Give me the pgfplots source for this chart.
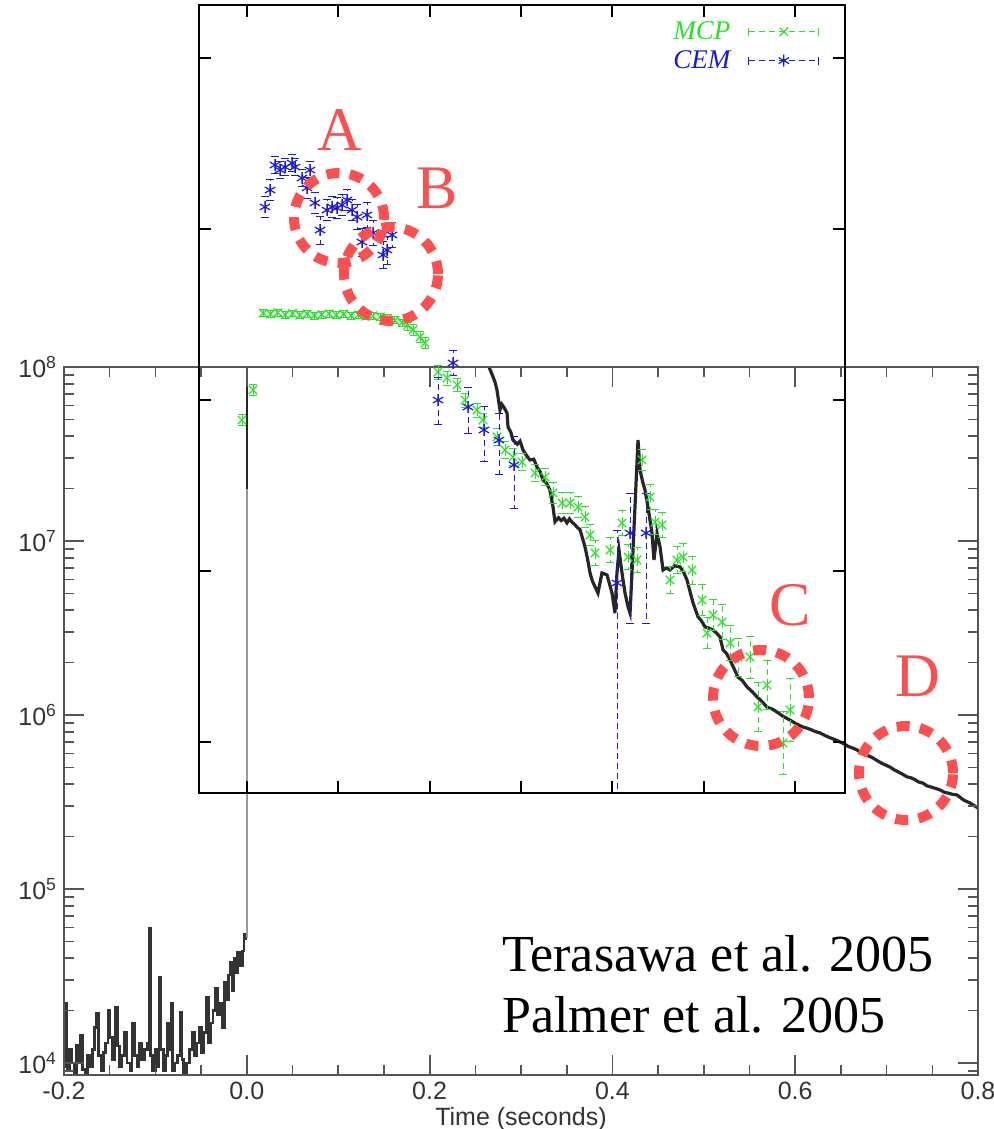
\documentclass[border=0pt]{standalone}
\usepackage{fontspec}
\setmainfont{Liberation Serif}
\newfontfamily\arial{Liberation Sans}
\usepackage{pgfplots}
\usepackage{pgfplotstable}
\pgfplotsset{compat=1.18}
\definecolor{mcp}{RGB}{40,225,40}
\definecolor{cem}{RGB}{25,25,215}
\definecolor{anno}{RGB}{250,80,80}
\definecolor{axgray}{RGB}{85,85,85}

% light curve before the burst (counts/s)
\pgfplotstableread{
t y
-0.2000 9.5e3
-0.1985 2.2e4
-0.1965 9.0e3
-0.1940 1.2e4
-0.1915 1.0e4
-0.1890 8.8e3
-0.1865 1.26e4
-0.1840 1.0e4
-0.1820 1.45e4
-0.1795 9.2e3
-0.1770 8.8e3
-0.1745 1.1e4
-0.1720 9.5e3
-0.1690 1.2e4
-0.1665 1.6e4
-0.1645 1.94e4
-0.1620 1.1e4
-0.1595 9.0e3
-0.1570 1.15e4
-0.1545 1.3e4
-0.1520 2.0e4
-0.1495 1.4e4
-0.1470 1.05e4
-0.1440 2.1e4
-0.1415 1.25e4
-0.1390 9.5e3
-0.1365 1.1e4
-0.1335 1.5e4
-0.1310 1.0e4
-0.1280 9.0e3
-0.1255 1.7e4
-0.1230 1.1e4
-0.1200 9.5e3
-0.1180 1.3e4
-0.1150 1.05e4
-0.1120 1.2e4
-0.1085 1.3e4
-0.1070 5.97e4
-0.1055 1.1e4
-0.1030 9.0e3
-0.1000 1.2e4
-0.0975 9.5e3
-0.0960 3.1e4
-0.0940 1.2e4
-0.0910 9.0e3
-0.0885 1.1e4
-0.0865 1.7e4
-0.0845 1.2e4
-0.0830 2.2e4
-0.0810 9.0e3
-0.0785 1.0e4
-0.0760 1.1e4
-0.0730 1.95e4
-0.0710 1.05e4
-0.0690 8.8e3
-0.0660 1.0e4
-0.0630 1.2e4
-0.0600 1.5e4
-0.0575 1.1e4
-0.0550 1.3e4
-0.0520 1.6e4
-0.0495 1.15e4
-0.0470 1.5e4
-0.0440 2.4e4
-0.0420 1.3e4
-0.0400 1.7e4
-0.0370 2.0e4
-0.0345 2.7e4
-0.0320 1.9e4
-0.0295 2.2e4
-0.0270 1.6e4
-0.0245 2.9e4
-0.0225 2.3e4
-0.0200 3.2e4
-0.0180 3.8e4
-0.0160 2.6e4
-0.0140 4.0e4
-0.0120 3.3e4
-0.0100 4.3e4
-0.0075 3.6e4
-0.0050 4.4e4
-0.0030 5.5e4
-0.0010 5.2e4
0.0000 5.2e4
}\lcpre

% light curve after the main spike
\pgfplotstableread{
t y
0.2620 1.3e8
0.2650 1.0e8
0.2694 8.77e7
0.2715 8.2e7
0.2737 7.38e7
0.2770 5.66e7
0.2790 6.1e7
0.2810 5.9e7
0.2847 5.45e7
0.2858 4.52e7
0.2890 4.2e7
0.2912 3.80e7
0.2960 3.6e7
0.2990 3.75e7
0.3022 3.33e7
0.3060 3.1e7
0.3098 2.92e7
0.3140 2.95e7
0.3175 2.66e7
0.3210 2.5e7
0.3241 2.24e7
0.3280 2.15e7
0.3317 1.96e7
0.3350 1.57e7
0.3372 1.29e7
0.3410 1.36e7
0.3440 1.31e7
0.3470 1.35e7
0.3503 1.27e7
0.3530 1.34e7
0.3560 1.28e7
0.3590 1.24e7
0.3613 1.20e7
0.3646 1.16e7
0.3700 9.25e6
0.3730 7.8e6
0.3755 6.55e6
0.3780 5.9e6
0.3810 5.45e6
0.3842 5.02e6
0.3886 6.55e6
0.3941 6.38e6
0.3996 5.02e6
0.4028 3.85e6
0.4050 6.55e6
0.4072 8.87e6
0.4105 6.55e6
0.4138 5.02e6
0.4171 4.18e6
0.4193 3.85e6
0.4214 6.55e6
0.4247 1.57e7
0.4280 3.80e7
0.4302 2.56e7
0.4330 2.2e7
0.4357 1.96e7
0.4389 1.57e7
0.4433 1.11e7
0.4455 7.78e6
0.4488 1.11e7
0.4521 9.25e6
0.4554 6.81e6
0.4590 7.0e6
0.4630 6.81e6
0.4680 7.2e6
0.4740 7.10e6
0.4780 6.6e6
0.4816 5.97e6
0.4850 5.1e6
0.4882 4.41e6
0.4937 3.66e6
0.4970 3.5e6
0.5013 3.21e6
0.5060 3.15e6
0.5101 3.08e6
0.5140 2.95e6
0.5177 2.81e6
0.5210 2.37e6
0.5250 2.25e6
0.5287 2.07e6
0.5330 1.85e6
0.5374 1.65e6
0.5420 1.58e6
0.5473 1.45e6
0.5530 1.36e6
0.5582 1.27e6
0.5640 1.19e6
0.5691 1.11e6
0.5750 1.08e6
0.5801 1.04e6
0.5870 9.8e5
0.5943 9.35e5
0.6010 8.9e5
0.6085 8.53e5
0.6130 8.4e5
0.6180 8.2e5
0.6230 8.0e5
0.6271 7.89e5
0.6330 7.6e5
0.6380 7.4e5
0.6440 7.2e5
0.6490 7.00e5
0.6540 6.8e5
0.6580 6.6e5
0.6630 6.45e5
0.6676 6.30e5
0.6720 6.05e5
0.6760 5.9e5
0.6810 5.8e5
0.6851 5.66e5
0.6900 5.45e5
0.6940 5.3e5
0.6990 5.15e5
0.7037 5.02e5
0.7080 4.85e5
0.7130 4.7e5
0.7180 4.55e5
0.7223 4.41e5
0.7270 4.35e5
0.7310 4.25e5
0.7350 4.12e5
0.7398 4.06e5
0.7440 3.92e5
0.7490 3.85e5
0.7540 3.78e5
0.7584 3.71e5
0.7630 3.60e5
0.7680 3.55e5
0.7720 3.50e5
0.7770 3.47e5
0.7840 3.25e5
0.7912 3.12e5
0.8000 2.92e5
}\lcpost

% MCP (inset, log10 units)
\pgfplotstableread{
t L ep em
-0.0053 7.695 0.03 0.03
0.0068 7.868 0.03 0.03
0.0180 8.310 0.02 0.02
0.0260 8.305 0.02 0.02
0.0340 8.312 0.02 0.02
0.0420 8.300 0.02 0.02
0.0500 8.308 0.02 0.02
0.0580 8.298 0.02 0.02
0.0660 8.305 0.02 0.02
0.0740 8.296 0.02 0.02
0.0820 8.302 0.02 0.02
0.0900 8.306 0.02 0.02
0.0980 8.300 0.02 0.02
0.1060 8.304 0.02 0.02
0.1140 8.296 0.02 0.02
0.1220 8.300 0.02 0.02
0.1300 8.292 0.02 0.02
0.1380 8.294 0.02 0.02
0.1460 8.288 0.02 0.02
0.1540 8.280 0.02 0.02
0.1620 8.268 0.02 0.02
0.1700 8.255 0.02 0.02
0.1760 8.240 0.03 0.03
0.1820 8.213 0.03 0.03
0.1895 8.172 0.03 0.03
0.1950 8.138 0.03 0.03
0.2092 7.971 0.04 0.04
0.2190 7.937 0.04 0.04
0.2300 7.897 0.04 0.04
0.2387 7.810 0.04 0.04
0.2519 7.753 0.04 0.04
0.2584 7.695 0.04 0.04
0.2737 7.598 0.05 0.05
0.2825 7.523 0.05 0.05
0.2912 7.483 0.05 0.05
0.3011 7.454 0.05 0.05
0.3153 7.391 0.05 0.05
0.3263 7.368 0.05 0.05
0.3350 7.276 0.06 0.06
0.3449 7.218 0.06 0.06
0.3536 7.218 0.06 0.06
0.3624 7.195 0.06 0.06
0.3700 7.138 0.06 0.06
0.3755 7.034 0.06 0.06
0.3810 6.931 0.07 0.07
0.3974 6.948 0.07 0.07
0.4105 7.103 0.07 0.07
0.4171 6.908 0.07 0.07
0.4269 6.891 0.07 0.07
0.4324 7.466 0.06 0.06
0.4411 7.253 0.07 0.07
0.4466 7.109 0.07 0.07
0.4543 7.092 0.07 0.07
0.4630 6.776 0.08 0.08
0.4707 6.891 0.08 0.08
0.4772 6.908 0.08 0.08
0.4871 6.833 0.08 0.08
0.4980 6.661 0.09 0.09
0.5035 6.471 0.09 0.09
0.5101 6.575 0.09 0.09
0.5199 6.534 0.10 0.10
0.5287 6.414 0.10 0.10
0.5374 6.333 0.11 0.11
0.5505 6.333 0.12 0.12
0.5593 6.046 0.14 0.14
0.5691 6.172 0.14 0.14
0.5866 5.839 0.18 0.18
0.5943 6.029 0.18 0.18
}\mcpdata

% CEM (inset, log10 units)
\pgfplotstableread{
t L ep em
0.0199 8.920 0.06 0.06
0.0254 9.017 0.06 0.06
0.0309 9.161 0.05 0.05
0.0363 9.132 0.05 0.05
0.0418 9.149 0.05 0.05
0.0495 9.172 0.05 0.05
0.0527 9.149 0.05 0.05
0.0604 9.086 0.05 0.05
0.0659 9.029 0.06 0.06
0.0691 9.132 0.05 0.05
0.0746 8.943 0.06 0.06
0.0801 8.787 0.08 0.08
0.0877 8.902 0.06 0.06
0.0932 8.920 0.06 0.06
0.0987 8.914 0.06 0.06
0.1042 8.931 0.06 0.06
0.1096 8.960 0.06 0.06
0.1151 8.902 0.06 0.06
0.1206 8.862 0.07 0.07
0.1260 8.718 0.08 0.08
0.1315 8.874 0.07 0.07
0.1381 8.770 0.07 0.07
0.1490 8.644 0.08 0.08
0.1534 8.672 0.08 0.08
0.1589 8.759 0.07 0.07
0.2092 7.810 0.13 0.14
0.2256 8.023 0.07 0.07
0.2420 7.770 0.115 0.153
0.2595 7.638 0.134 0.18
0.2759 7.580 0.153 0.20
0.2923 7.437 0.163 0.25
0.4050 6.759 0.30 1.60
0.4193 7.046 0.226 0.52
0.4368 7.046 0.226 0.52
}\cemdata

\pgfplotsset{
  tickframe/.style={
    at={(32pt,27pt)}, anchor=south west, scale only axis,
    width=457pt, height=354pt,
    xmin=-0.2, xmax=0.8, ymin=3.931, ymax=8,
    xticklabels={}, yticklabels={},
    xtick pos=both, ytick pos=both, tick align=inside,
    axis line style={axgray, line width=1pt},
  },
}

\begin{document}
\begin{tikzpicture}
\path[use as bounding box] (0,0) rectangle (497pt,564.5pt);

% ---------------- main light-curve axis ----------------
\begin{axis}[
  at={(32pt,27pt)}, anchor=south west, scale only axis,
  width=457pt, height=354pt,
  xmin=-0.2, xmax=0.8,
  ymode=log, ymin=8531, ymax=1e8,
  xtick={-0.2,0,0.2,0.4,0.6,0.8},
  xticklabels={{-0.2},{0.0},{0.2},{0.4},{0.6},{0.8}},
  yticklabels={{},{10\textsuperscript{4}},{10\textsuperscript{5}},{10\textsuperscript{6}},{10\textsuperscript{7}},{10\textsuperscript{8}}},
  major tick length=0pt, minor tick length=0pt,
  axis line style={axgray, line width=1pt},
  ticklabel style={font=\arial\fontsize{12.5}{15}\selectfont, text=black!80},
  xlabel={Time (seconds)},
  xlabel style={font=\arial\fontsize{12.5}{15}\selectfont, text=black!80, yshift=3pt},
]
\addplot[black!80, line width=1.3pt, const plot] table[x=t, y=y] {\lcpre};
\addplot[black!40, line width=1.3pt] coordinates {(0,5.2e4) (0,1e9)};
\addplot[black!85, line width=1.3pt] coordinates {(0.0004,2e7) (0.0004,1e9)};
\addplot[black!85, line width=1.6pt] table[x=t, y=y] {\lcpost};
\end{axis}

% tick frame of the main axis: major ticks (y in log10 units)
\begin{axis}[tickframe,
  xtick={-0.2,0,0.2,0.4,0.6,0.8},
  ytick={4,5,6,7,8},
  major tick length=10pt,
  major tick style={draw=axgray, line width=0.9pt},
]
\end{axis}
% tick frame of the main axis: minor ticks
\begin{axis}[tickframe,
  xtick={-0.15,-0.1,-0.05,0.05,0.1,0.15,0.25,0.3,0.35,0.45,0.5,0.55,0.65,0.7,0.75},
  ytick={3.95424,4.30103,4.47712,4.60206,4.69897,4.77815,4.84510,4.90309,4.95424,
         5.30103,5.47712,5.60206,5.69897,5.77815,5.84510,5.90309,5.95424,
         6.30103,6.47712,6.60206,6.69897,6.77815,6.84510,6.90309,6.95424,
         7.30103,7.47712,7.60206,7.69897,7.77815,7.84510,7.90309,7.95424},
  major tick length=5pt,
  major tick style={draw=axgray, line width=0.8pt},
]
\end{axis}

% ---------------- inset: MCP / CEM ----------------
\begin{axis}[
  at={(99.5pt,168pt)}, anchor=south west, scale only axis,
  width=323pt, height=394pt,
  xmin=-0.0523, xmax=0.6545, ymin=5.5517, ymax=10.0805,
  xtick={0,0.1,0.2,0.3,0.4,0.5,0.6},
  ytick={5.8448,6.8276,7.8103,8.7931,9.7759},
  xticklabels={}, yticklabels={},
  xtick pos=both, ytick pos=both,
  tick align=inside, major tick length=6pt,
  axis line style={black, line width=1pt},
  major tick style={draw=black, line width=0.9pt},
  legend style={at={(0.97,0.99)}, anchor=north east, draw=none, fill=none,
    font=\fontsize{13.5}{15.5}\selectfont\itshape, row sep=0pt, column sep=7pt},
  legend plot pos=right,
  legend cell align=right,
  legend image code/.code={
    \draw[#1, densely dashed, line width=0.4pt] (0pt,0pt) -- (35pt,0pt);
    \draw[#1, solid, line width=0.4pt] (0pt,-2pt) -- (0pt,2pt) (35pt,-2pt) -- (35pt,2pt);
    \draw[#1, solid] plot coordinates {(17.5pt,0pt)};
  },
]
\addplot[only marks, mark=x, mark size=3pt, color=mcp, mark options={solid, line width=0.6pt},
  error bars/.cd, y dir=both, y explicit,
  error bar style={densely dashed, line width=0.4pt},
  error mark options={rotate=90, mark size=1.8pt, solid}]
  table[x=t, y=L, y error plus=ep, y error minus=em] {\mcpdata};
\addlegendentry{\textcolor{mcp}{MCP}}
\addplot[only marks, mark=asterisk, mark size=3pt, color=cem, mark options={solid, line width=0.6pt},
  error bars/.cd, y dir=both, y explicit,
  error bar style={densely dashed, line width=0.4pt},
  error mark options={rotate=90, mark size=1.8pt, solid}]
  table[x=t, y=L, y error plus=ep, y error minus=em] {\cemdata};
\addlegendentry{\textcolor{cem}{CEM}}
\end{axis}

% ---------------- annotations (pixel-based scope) ----------------
\begin{scope}[shift={(0pt,564.5pt)}, x=0.5pt, y=-0.5pt]
  \begin{scope}[anno, line width=5pt, dash pattern=on 6.5pt off 5.2pt]
    \draw (339,218) circle [radius=22.5pt];
    \draw (391,274) circle [radius=23.5pt];
    \draw (761,698) circle [radius=24pt];
    \draw (906,773) circle [radius=23.5pt];
  \end{scope}
  \node[text=anno, font=\fontsize{31}{31}\selectfont] at (340,130) {A};
  \node[text=anno, font=\fontsize{31}{31}\selectfont] at (437,188) {B};
  \node[text=anno, font=\fontsize{31}{31}\selectfont] at (790,605) {C};
  \node[text=anno, font=\fontsize{31}{31}\selectfont] at (918,676) {D};
  \node[anchor=base west, inner sep=0pt, font=\fontsize{26}{26}\selectfont] at (502,972) {Terasawa et al. 2005};
  \node[anchor=base west, inner sep=0pt, font=\fontsize{26}{26}\selectfont] at (502,1033) {Palmer et al. 2005};
\end{scope}
\end{tikzpicture}
\end{document}
